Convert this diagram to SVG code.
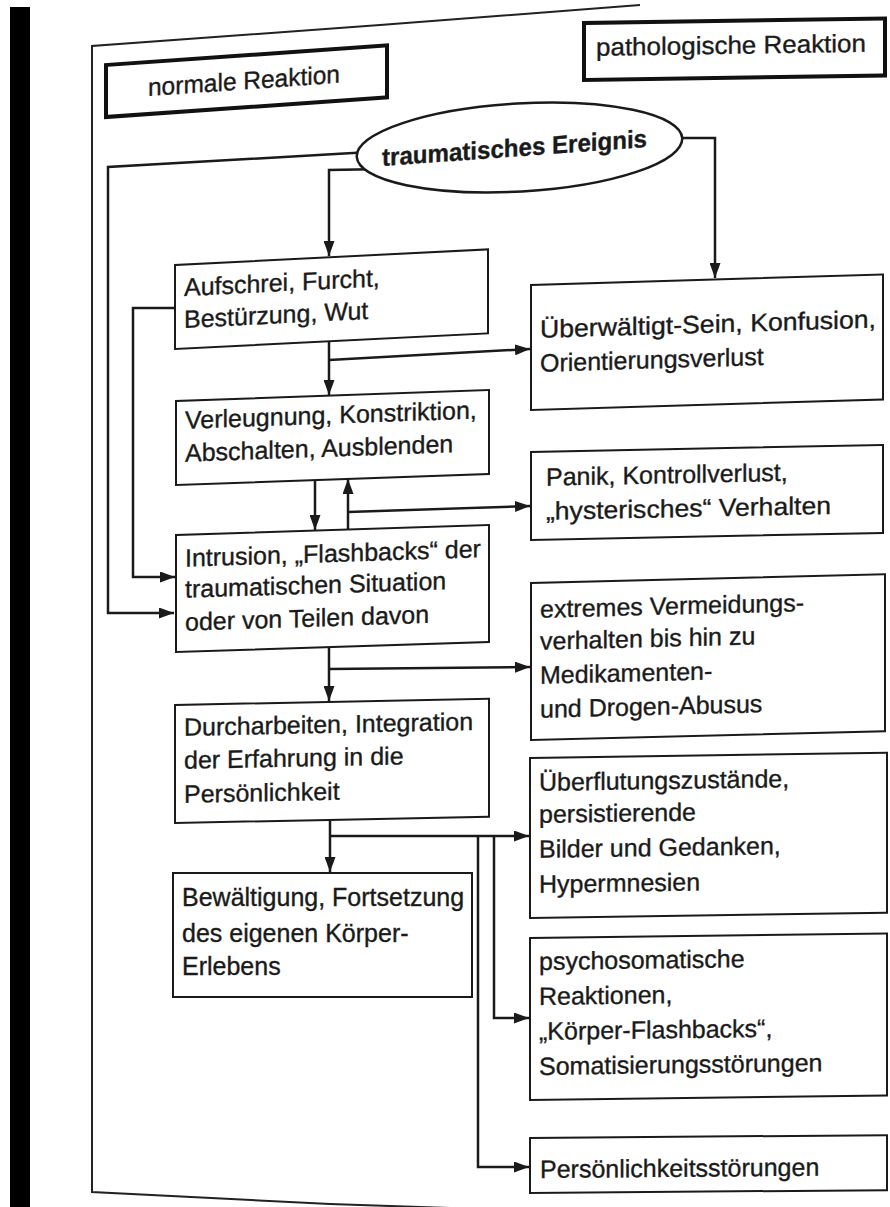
<svg xmlns="http://www.w3.org/2000/svg" width="890" height="1207" viewBox="0 0 890 1207">
<defs>
<style>
.box{fill:#fff;stroke:#1a1a1a;stroke-width:2}
.hdr{fill:#fff;stroke:#111;stroke-width:4}
.t{font-family:"Liberation Sans",Arial,sans-serif;font-size:25px;fill:#1a1a1a;stroke:#1a1a1a;stroke-width:0.35}
.c{fill:none;stroke:#1a1a1a;stroke-width:2.5;marker-end:url(#ah)}
.frame{fill:none;stroke:#222;stroke-width:2}
</style>
<marker id="ah" viewBox="0 0 15 11" refX="15" refY="5.5" markerWidth="15" markerHeight="11" markerUnits="userSpaceOnUse" orient="auto">
<path d="M0,0 L15,5.5 L0,11 z" fill="#1a1a1a"/>
</marker>
</defs>
<rect x="0" y="0" width="890" height="1207" fill="#fff"/>
<rect x="10" y="7" width="20" height="1200" fill="#000"/>
<path class="frame" d="M 640,5 L 380,25 L 92,46 L 92,1192 L 330,1204 L 480,1209"/>

<g id="connectors">
<path class="c" d="M 370,152 L 108,167 L 108,613 L 174,613"/>
<path class="c" d="M 385,169 L 329,170 L 329,256"/>
<path class="c" d="M 670,138 L 715,138 L 715,278"/>
<path class="c" d="M 175,308 L 133,308 L 133,577 L 175,577"/>
<path class="c" d="M 329,342 L 329,395"/>
<path class="c" d="M 329,360 L 530,349"/>
<path class="c" d="M 315,480 L 315,530"/>
<path class="c" d="M 348,529 L 348,479"/>
<path class="c" d="M 348,512 L 530,506"/>
<path class="c" d="M 329,647 L 329,701"/>
<path class="c" d="M 329,669 L 530,667"/>
<path class="c" d="M 330,821 L 330,872"/>
<path class="c" d="M 330,836 L 529,836"/>
<path class="c" d="M 494,836 L 494,1018 L 529,1018"/>
<path class="c" d="M 478,836 L 478,1167 L 529,1167"/>
</g>

<g id="normal" transform="translate(106,65) skewY(-4)">
<rect class="hdr" x="0" y="0" width="281" height="52"/>
<text class="t" x="42" y="34" font-size="24" textLength="192" lengthAdjust="spacingAndGlyphs">normale Reaktion</text>
</g>

<g id="patho" transform="translate(584,23) skewY(-0.86)">
<rect class="hdr" x="0" y="0" width="301" height="57"/>
<text class="t" x="12" y="33" font-size="26" textLength="270" lengthAdjust="spacingAndGlyphs">pathologische Reaktion</text>
</g>

<g id="event">
<ellipse cx="519.5" cy="147.5" rx="163" ry="44" transform="rotate(-3.3 519.5 147.5)" fill="#fff" stroke="#1a1a1a" stroke-width="2.5"/>
<text class="t" transform="translate(382,166) skewY(-4.1)" font-weight="bold" font-size="24" textLength="265" lengthAdjust="spacingAndGlyphs">traumatisches Ereignis</text>
</g>

<g id="aufschrei" transform="translate(175,265) skewY(-2.86)">
<rect class="box" x="0" y="0" width="313" height="84"/>
<text class="t" x="9" y="31.5">Aufschrei, Furcht,</text>
<text class="t" x="9" y="63.5">Bestürzung, Wut</text>
</g>

<g id="ueberwaeltigt" transform="translate(531,285) skewY(-1.72)">
<rect class="box" x="0" y="0" width="352" height="125"/>
<text class="t" x="9" y="53" font-size="26" textLength="336" lengthAdjust="spacingAndGlyphs">Überwältigt-Sein, Konfusion,</text>
<text class="t" x="9" y="87" font-size="26">Orientierungsverlust</text>
</g>

<g id="verleugnung" transform="translate(176,401) skewY(-2)">
<rect class="box" x="0" y="0" width="313" height="84"/>
<text class="t" x="9" y="28">Verleugnung, Konstriktion,</text>
<text class="t" x="9" y="61">Abschalten, Ausblenden</text>
</g>

<g id="panik" transform="translate(531,452) skewY(-1.15)">
<rect class="box" x="0" y="0" width="352" height="88"/>
<text class="t" x="15" y="34">Panik, Kontrollverlust,</text>
<text class="t" x="15" y="68" textLength="285" lengthAdjust="spacingAndGlyphs">„hysterisches“ Verhalten</text>
</g>

<g id="intrusion" transform="translate(176,535) skewY(-1.83)">
<rect class="box" x="0" y="0" width="313" height="117"/>
<text class="t" x="9" y="32">Intrusion, „Flashbacks“ der</text>
<text class="t" x="9" y="63">traumatischen Situation</text>
<text class="t" x="9" y="96">oder von Teilen davon</text>
</g>

<g id="vermeidung" transform="translate(531,583) skewY(-1.43)">
<rect class="box" x="0" y="0" width="354" height="157"/>
<text class="t" x="9" y="35">extremes Vermeidungs-</text>
<text class="t" x="9" y="67">verhalten bis hin zu</text>
<text class="t" x="9" y="101">Medikamenten-</text>
<text class="t" x="9" y="135">und Drogen-Abusus</text>
</g>

<g id="durcharbeiten" transform="translate(175,705) skewY(-1.15)">
<rect class="box" x="0" y="0" width="314" height="118"/>
<text class="t" x="9" y="31">Durcharbeiten, Integration</text>
<text class="t" x="9" y="64">der Erfahrung in die</text>
<text class="t" x="9" y="98">Persönlichkeit</text>
</g>

<g id="ueberflutung" transform="translate(530,758) skewY(-0.86)">
<rect class="box" x="0" y="0" width="357" height="160"/>
<text class="t" x="9" y="33">Überflutungszustände,</text>
<text class="t" x="9" y="65">persistierende</text>
<text class="t" x="9" y="100">Bilder und Gedanken,</text>
<text class="t" x="9" y="135">Hypermnesien</text>
</g>

<g id="bewaeltigung" transform="translate(173,873)">
<rect class="box" x="0" y="0" width="299" height="124"/>
<text class="t" x="9" y="33">Bewältigung, Fortsetzung</text>
<text class="t" x="9" y="69">des eigenen Körper-</text>
<text class="t" x="9" y="102">Erlebens</text>
</g>

<g id="psychosomatisch" transform="translate(530,938) skewY(-0.74)">
<rect class="box" x="0" y="0" width="357" height="162"/>
<text class="t" x="9" y="32" font-size="27">psychosomatische</text>
<text class="t" x="9" y="67" font-size="27">Reaktionen,</text>
<text class="t" x="9" y="102" font-size="27">„Körper-Flashbacks“,</text>
<text class="t" x="9" y="137" font-size="27">Somatisierungsstörungen</text>
</g>

<g id="persoenlichkeit" transform="translate(530,1138) skewY(-0.46)">
<rect class="box" x="0" y="0" width="357" height="55"/>
<text class="t" x="10" y="40" font-size="27">Persönlichkeitsstörungen</text>
</g>
</svg>
